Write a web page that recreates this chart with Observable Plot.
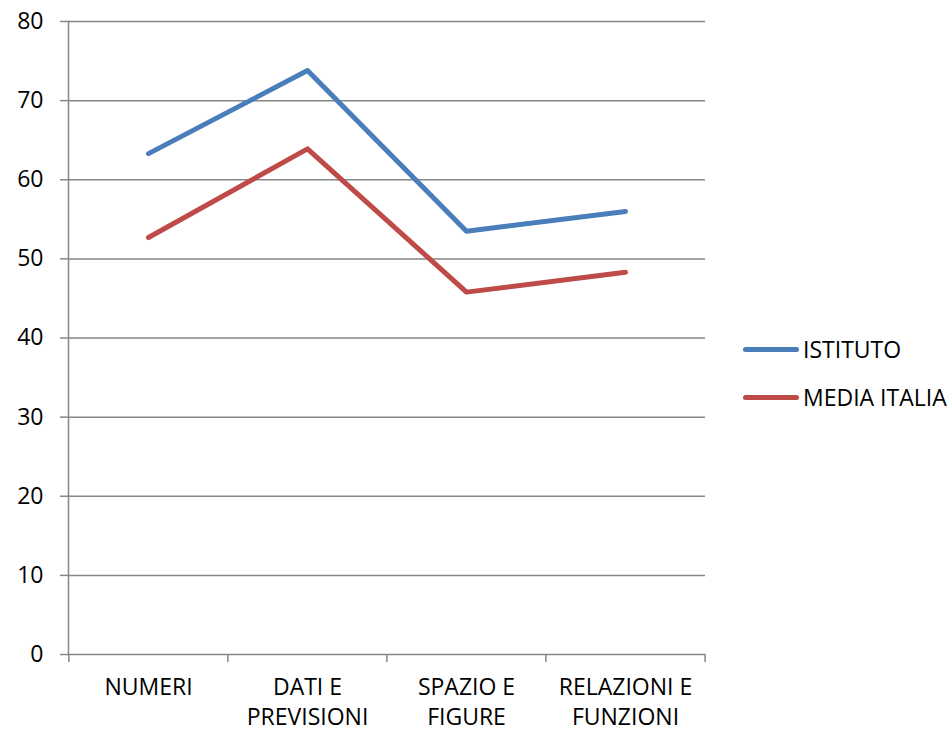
<!DOCTYPE html>
<html>
<head>
<meta charset="utf-8">
<script src="https://cdn.jsdelivr.net/npm/d3@7"></script>
<script src="https://cdn.jsdelivr.net/npm/@observablehq/plot@0.6"></script>
<style>
  html, body { margin: 0; padding: 0; background: #fff; }
  #wrap { position: relative; width: 952px; height: 732px; font-family: "Open Sans", sans-serif; }
  .legend { position: absolute; left: 743px; font-size: 23px; color: #000; display: flex; align-items: center; white-space: nowrap; }
  .legend .sw { width: 56px; height: 5px; border-radius: 3px; margin-right: 4px; }
</style>
</head>
<body>
<div id="wrap"></div>
<script>
const categories = ["NUMERI", "DATI E\nPREVISIONI", "SPAZIO E\nFIGURE", "RELAZIONI E\nFUNZIONI"];
const seriesNames = ["ISTITUTO", "MEDIA ITALIA"];
const istituto = [63.3, 73.8, 53.5, 56.0];
const mediaItalia = [52.7, 63.9, 45.8, 48.3];
const yTicks = [0, 10, 20, 30, 40, 50, 60, 70, 80];
const colors = ["#4A7EBB", "#BE4B48"];

const data = [];
categories.forEach((c, i) => {
  data.push({cat: c, series: seriesNames[0], value: istituto[i]});
  data.push({cat: c, series: seriesNames[1], value: mediaItalia[i]});
});

const W = 952, H = 732, ML = 68, MR = 247, MT = 21, MB = 78;
const step = (W - ML - MR) / categories.length;
const gray = "#868686";

const chart = Plot.plot({
  width: W, height: H,
  marginLeft: ML, marginRight: MR, marginTop: MT, marginBottom: MB,
  style: {fontFamily: "Open Sans", fontSize: "23px", color: "#000", background: "#fff"},
  x: {type: "point", domain: categories, padding: 0.5},
  y: {domain: [0, 80]},
  color: {domain: seriesNames, range: colors},
  marks: [
    Plot.gridY(yTicks, {stroke: gray, strokeOpacity: 1, strokeWidth: 1.5}),
    Plot.axisY(yTicks, {tickSize: 8, tickPadding: 17, stroke: gray, strokeWidth: 1.5, label: null, tickFormat: d => d, fontSize: 23}),
    Plot.frame({anchor: "left", stroke: gray, strokeWidth: 1.5}),
    Plot.ruleX(categories, {x: d => d, dx: -step / 2, y1: 0, y2: -1, stroke: gray, strokeWidth: 1.5}),
    Plot.ruleX(categories.slice(-1), {x: d => d, dx: step / 2, y1: 0, y2: -1, stroke: gray, strokeWidth: 1.5}),
    Plot.axisX({tickSize: 0, tickPadding: 19, label: null, lineHeight: 1.3, fill: "#000", fontSize: 23}),
    Plot.line(data, {x: "cat", y: "value", z: "series", stroke: "series", strokeWidth: 5, strokeLinecap: "round", strokeLinejoin: "round"})
  ]
});

const wrap = document.getElementById("wrap");
wrap.appendChild(chart);

const legendY = [349, 397];
seriesNames.forEach((name, i) => {
  const el = document.createElement("div");
  el.className = "legend";
  el.style.top = (legendY[i] - 16) + "px";
  el.style.height = "32px";
  const sw = document.createElement("div");
  sw.className = "sw";
  sw.style.background = colors[i];
  const t = document.createElement("span");
  t.textContent = name;
  el.appendChild(sw);
  el.appendChild(t);
  wrap.appendChild(el);
});
</script>
</body>
</html>
